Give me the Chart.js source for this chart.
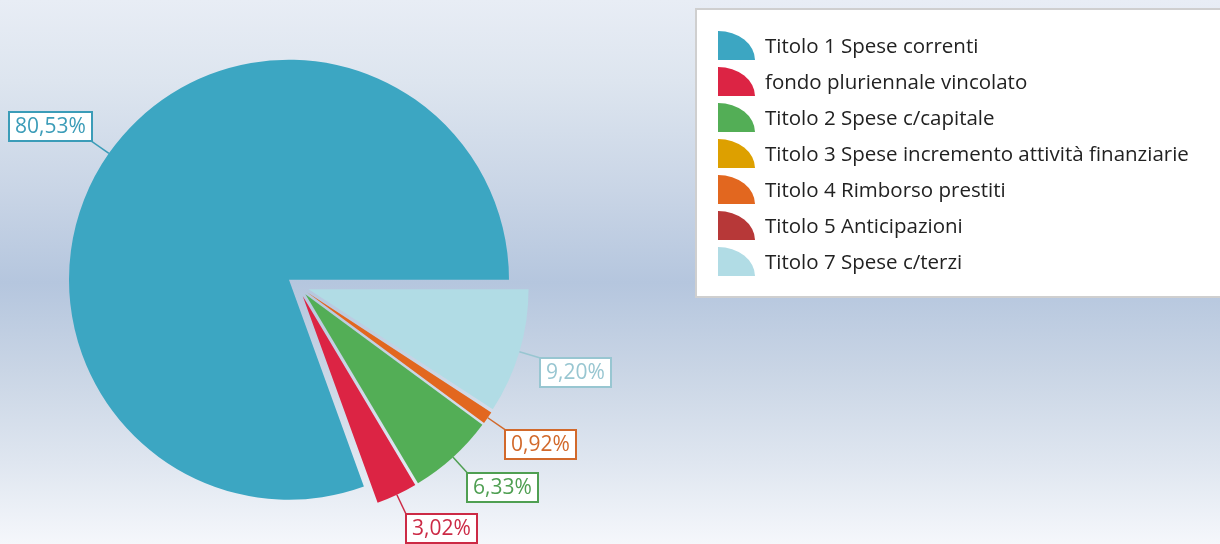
<!DOCTYPE html>
<html>
<head>
<meta charset="utf-8">
<script src="https://cdn.jsdelivr.net/npm/chart.js@4.4.1/dist/chart.umd.min.js"></script>
<style>
html,body{margin:0;padding:0;width:1220px;height:544px;overflow:hidden;}
body{position:relative;background:linear-gradient(to bottom,#e8edf5 0%,#dde5ef 15%,#c9d5e6 35%,#b5c6de 52%,#c9d5e5 68%,#dfe6f0 85%,#f5f7fb 100%);font-family:"Open Sans",sans-serif;}
#c{position:absolute;left:0;top:0;}
#legend{position:absolute;left:695px;top:8px;width:560px;height:286px;background:#fff;border:2px solid #cfcfcf;}
#legend ul{list-style:none;margin:0;padding:17px 0 0 21px;}
#legend li{display:flex;align-items:center;height:36px;font-size:20.5px;color:#222;white-space:nowrap;}
#legend li canvas{margin-right:10px;}
</style>
</head>
<body>
<canvas id="c" width="1220" height="544"></canvas>
<div id="legend"></div>
<script>
// ---- data (legend order) ----
const categories = [
  "Titolo 1 Spese correnti",
  "fondo pluriennale vincolato",
  "Titolo 2 Spese c/capitale",
  "Titolo 3 Spese incremento attività finanziarie",
  "Titolo 4 Rimborso prestiti",
  "Titolo 5 Anticipazioni",
  "Titolo 7 Spese c/terzi"
];
const percentages = [80.53, 3.02, 6.33, 0, 0.92, 0, 9.20];
const colors = ["#3ca6c2", "#dc2444", "#53ae56", "#dda000", "#e2671f", "#b73838", "#b1dce5"];
const labelColors = ["#3b9cb8", "#cc2a45", "#4f9f52", "#c99200", "#d2692b", "#a83535", "#98c6d1"];

// ---- style ----
const EXPLODE = 11;
const LEADER = 21;
const LABEL_FONT = '21px "Open Sans", sans-serif';
const PADX = 6;
const BOX_H = 29;

// pie draws clockwise from 3 o'clock; the reference goes counter-clockwise, so reverse
const rev = a => a.slice().reverse();

const explodePlugin = {
  id: 'explode',
  beforeDatasetDraw(chart, args) {
    const ctx = chart.ctx;
    args.meta.data.forEach(arc => {
      if (!arc.circumference) return;
      const mid = (arc.startAngle + arc.endAngle) / 2;
      ctx.save();
      ctx.translate(Math.cos(mid) * EXPLODE, Math.sin(mid) * EXPLODE);
      arc.draw(ctx, chart.chartArea);
      ctx.restore();
    });
    return false;
  }
};

const fmt = v => v.toFixed(2).replace('.', ',') + '%';

const labelPlugin = {
  id: 'boxLabels',
  afterDatasetsDraw(chart) {
    const ctx = chart.ctx;
    const meta = chart.getDatasetMeta(0);
    const ds = chart.data.datasets[0];
    ctx.save();
    ctx.font = LABEL_FONT;
    meta.data.forEach((arc, i) => {
      const v = ds.data[i];
      if (!v) return;
      const col = ds.labelColors[i];
      const mid = (arc.startAngle + arc.endAngle) / 2;
      const dx = Math.cos(mid), dy = Math.sin(mid);
      const cx = arc.x + dx * EXPLODE, cy = arc.y + dy * EXPLODE;
      const ex = cx + dx * arc.outerRadius, ey = cy + dy * arc.outerRadius;
      const ax = ex + dx * LEADER, ay = ey + dy * LEADER;
      const txt = fmt(v);
      const w = Math.round(ctx.measureText(txt).width + 2 * PADX);
      const h = BOX_H;
      const bx = Math.round(dx < 0 ? ax - w : ax);
      const by = Math.round(dy < 0 ? ay - h : ay);
      ctx.strokeStyle = col;
      ctx.lineWidth = 1.5;
      ctx.beginPath();
      ctx.moveTo(ex, ey);
      ctx.lineTo(ax, ay);
      ctx.stroke();
      ctx.fillStyle = '#ffffff';
      ctx.fillRect(bx, by, w, h);
      ctx.lineWidth = 2;
      ctx.strokeRect(bx, by, w, h);
      ctx.fillStyle = col;
      ctx.textAlign = 'center';
      ctx.textBaseline = 'middle';
      ctx.fillText(txt, bx + w / 2, by + h / 2 + 1);
    });
    ctx.restore();
  }
};

const htmlLegend = {
  id: 'htmlLegend',
  afterUpdate(chart) {
    const box = document.getElementById('legend');
    box.innerHTML = '';
    const ul = document.createElement('ul');
    const items = chart.options.plugins.legend.labels.generateLabels(chart).reverse();
    items.forEach(item => {
      const li = document.createElement('li');
      const ic = document.createElement('canvas');
      ic.width = 37; ic.height = 29;
      const g = ic.getContext('2d');
      g.fillStyle = item.fillStyle;
      g.beginPath();
      g.moveTo(0, 29);
      g.lineTo(0, 0);
      g.ellipse(0, 29, 37, 29, 0, -Math.PI / 2, 0, false);
      g.closePath();
      g.fill();
      const span = document.createElement('span');
      span.textContent = item.text;
      li.appendChild(ic);
      li.appendChild(span);
      ul.appendChild(li);
    });
    box.appendChild(ul);
  }
};

new Chart(document.getElementById('c'), {
  type: 'pie',
  data: {
    labels: rev(categories),
    datasets: [{
      data: rev(percentages),
      backgroundColor: rev(colors),
      labelColors: rev(labelColors),
      borderWidth: 0
    }]
  },
  options: {
    responsive: false,
    animation: false,
    rotation: 90,
    radius: 220,
    layout: { padding: { left: 59, right: 683, top: 38, bottom: 10 } },
    plugins: {
      legend: { display: false },
      tooltip: { enabled: false }
    }
  },
  plugins: [explodePlugin, labelPlugin, htmlLegend]
});
</script>
</body>
</html>
